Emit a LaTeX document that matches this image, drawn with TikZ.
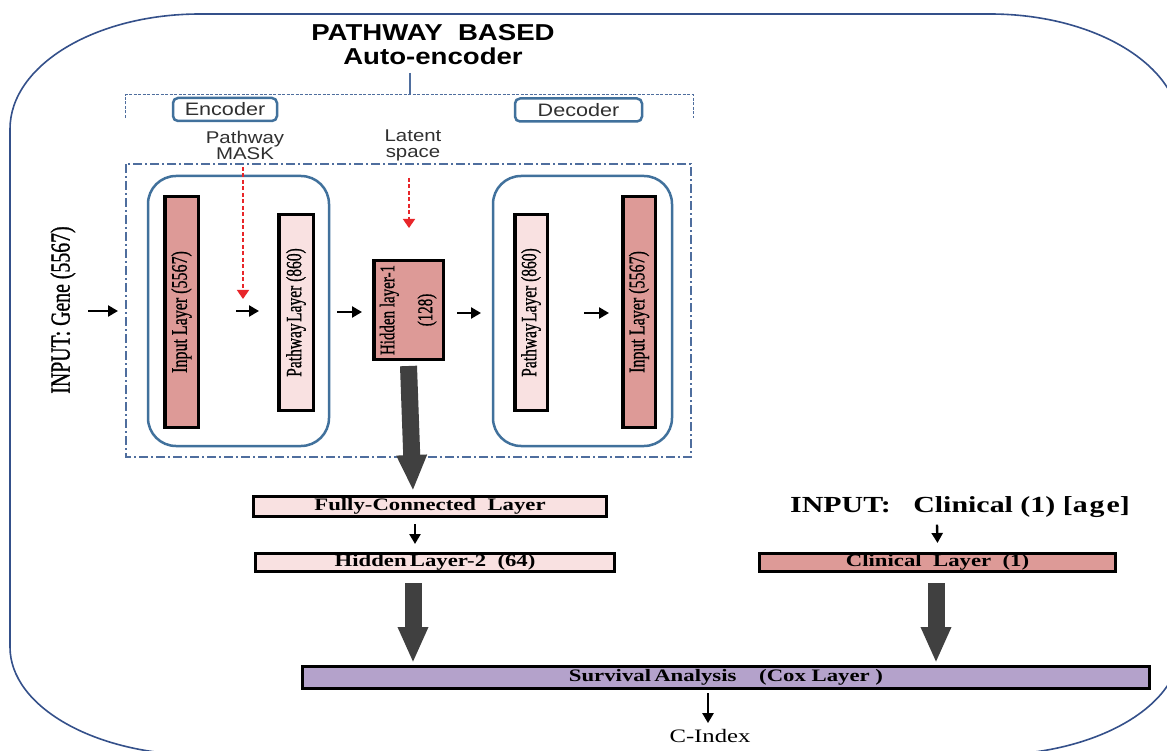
\documentclass[tikz,border=0pt]{standalone}
\usepackage{fontspec}
\setmainfont{Liberation Serif}
\setsansfont{Liberation Sans}
\newfontfamily\rotfont[FakeBold=1]{Liberation Serif}
\usetikzlibrary{arrows.meta,calc}
\definecolor{salmon}{HTML}{DD9A97}
\definecolor{lpink}{HTML}{F9E1E1}
\definecolor{lav}{HTML}{B4A2CB}
\definecolor{outerblue}{HTML}{34508A}
\definecolor{boxblue}{HTML}{41719C}
\definecolor{dashblue}{HTML}{4F6E9E}
\definecolor{biggray}{HTML}{404040}
\definecolor{maskred}{HTML}{E8262A}
\definecolor{txtgray}{HTML}{303030}
\newcommand\fsz[2]{\fontsize{#1}{#2}\selectfont}
\newcommand\hstr[1]{\scalebox{1.3}[1]{#1}}
\newcommand\sstr[1]{\scalebox{1.2}[1]{#1}}
\newcommand\rstr[1]{\scalebox{1}[1.4]{#1}}
\begin{document}
\begin{tikzpicture}[x=1pt,y=-1pt,
  layerd/.style={draw=black, line width=3.5pt, fill=salmon, inner sep=0pt, rotate=90},
  layerl/.style={draw=black, line width=3.5pt, fill=lpink, inner sep=0pt, rotate=90},
  hbar/.style={draw=black, line width=3pt, inner sep=0pt},
  sarrow/.style={line width=2.4pt, -{Triangle[length=10pt,width=11pt]}},
  redarrow/.style={maskred, line width=1.5pt, dash pattern=on 4pt off 2.5pt, -{Triangle[length=9pt,width=12pt]}},
  bigarrow/.style={biggray, line width=17pt, -{Triangle[length=36pt,width=28pt]}},
  tagbox/.style={draw=boxblue, line width=2.5pt, rounded corners=5pt, inner sep=0pt, font=\sffamily\fsz{18}{20}, text=txtgray},
  smalltxt/.style={font=\sffamily\fsz{17}{19}, text=txtgray, align=center, inner sep=0pt},
  groupbox/.style={draw=boxblue, line width=2.5pt, rounded corners=28pt}
]
\path[use as bounding box] (0,0) rectangle (1167,751);
\clip (0,0) rectangle (1167,751);
\fill[white] (0,0) rectangle (1167,751);
% outer boundary
\draw[outerblue, line width=1.6pt] (200,14) -- (990,14)
  arc[start angle=-90, end angle=0, x radius=190, y radius=115] -- (1180,647)
  arc[start angle=0, end angle=90, x radius=190, y radius=108] -- (200,755)
  arc[start angle=90, end angle=180, x radius=190, y radius=108] -- (10,129)
  arc[start angle=180, end angle=270, x radius=190, y radius=115] -- cycle;
% title
\node[font=\sffamily\bfseries\fsz{23}{26}, inner sep=0pt] (t1) at (433,33) {\sstr{PATHWAY\ \ BASED}};
\node[font=\sffamily\bfseries\fsz{23}{26}, inner sep=0pt] (t2) at (433,56) {\sstr{Auto-encoder}};
\coordinate (tl) at (410,73);
\coordinate (tb) at (410,95);
\draw[dashblue, line width=1.2pt] (tl) -- (tb);
% dashed bracket
\draw[dashblue, line width=1pt, dash pattern=on 3pt off 1.5pt] (125,118) -- (125,95) -- (693,95) -- (693,118);
% encoder/decoder tags
\node[tagbox, minimum width=104pt, minimum height=23pt] (enc) at (225,109.5) {\sstr{Encoder}};
\node[tagbox, minimum width=127pt, minimum height=23pt] (dec) at (578.5,110) {\sstr{Decoder}};
\node[smalltxt] (mask) at (245,145) {\sstr{Pathway}\\[-3pt]\sstr{MASK}};
\node[smalltxt] (lat) at (413,145) {\sstr{Latent}\\[-3pt]\sstr{space}};
% dash-dot box
\draw[dashblue, line width=1.3pt, dash pattern=on 9pt off 3pt on 2pt off 3pt] (126,164) rectangle (691,457);
% group boxes
\draw[groupbox] (148,176) rectangle (329,446);
\draw[groupbox] (493,176) rectangle (672,446);
% layers
\node[layerd, minimum width=230.5pt, minimum height=33.5pt, font=\rotfont\fsz{16}{18}] (in1) at (181.5,312) {\rstr{Input Layer (5567)}};
\node[layerl, minimum width=195.5pt, minimum height=34.5pt, font=\rotfont\fsz{15.5}{17}] (pw1) at (296,312.5) {\rstr{Pathway\kern1.5pt Layer (860)}};
\node[layerd, minimum width=98.5pt, minimum height=69.5pt, font=\rotfont\fsz{15}{17}, align=center] (hid1) at (408.5,310) {\rstr{\begin{tabular}{@{}c@{}}Hidden layer-1\\[10pt](128)\end{tabular}}};
\node[layerl, minimum width=195.5pt, minimum height=32.5pt, font=\rotfont\fsz{15.5}{17}] (pw2) at (531,312.5) {\rstr{Pathway\kern1.5pt Layer (860)}};
\node[layerd, minimum width=230.5pt, minimum height=32.5pt, font=\rotfont\fsz{16}{18}] (in2) at (639,312) {\rstr{Input Layer (5567)}};
% gene input
\node[rotate=90, font=\rotfont\fsz{22}{24}, inner sep=0pt] (gene) at (63,310) {\scalebox{0.9}[1.25]{INPUT: Gene (5567)}};
% small arrows
\coordinate (a0s) at (88,311);  \coordinate (a0e) at (118,311);
\coordinate (a1s) at (236,311); \coordinate (a1e) at (259,311);
\coordinate (a2s) at (337,312); \coordinate (a2e) at (362,312);
\coordinate (a3s) at (457,313); \coordinate (a3e) at (481,313);
\coordinate (a4s) at (584,313); \coordinate (a4e) at (609,313);
\draw[sarrow] (a0s) -- (a0e);
\draw[sarrow] (a1s) -- (a1e);
\draw[sarrow] (a2s) -- (a2e);
\draw[sarrow] (a3s) -- (a3e);
\draw[sarrow] (a4s) -- (a4e);
% red dashed arrows
\coordinate (m1s) at (243,167); \coordinate (m1e) at (243,299);
\coordinate (m2s) at (409,178); \coordinate (m2e) at (409,228);
\draw[redarrow] (m1s) -- (m1e);
\draw[redarrow] (m2s) -- (m2e);
% lower layers
\node[hbar, fill=lpink, minimum width=353pt, minimum height=20pt, font=\bfseries\fsz{17.5}{19}] (fc) at (430,506.5) {\hstr{Fully-Connected\ \ Layer}};
\node[hbar, fill=lpink, minimum width=359pt, minimum height=18pt, font=\bfseries\fsz{17.5}{19}] (h2) at (435,562.5) {\hstr{Hidden\kern2.5pt Layer-2\ \ (64)}};
\node[font=\bfseries\fsz{23}{25}, inner sep=0pt] (cin) at (960,507) {\hstr{INPUT:\ \ \ Clinical\ (1)\ [a\kern1.5pt g\kern1.5pt e]}};
\node[hbar, fill=salmon, minimum width=356pt, minimum height=18pt, font=\bfseries\fsz{17.5}{19}] (clin) at (937.5,562.5) {\hstr{Clinical\ \ Layer\ \ (1)}};
\node[hbar, fill=lav, minimum width=847pt, minimum height=22pt, font=\bfseries\fsz{17.5}{19}] (surv) at (726,677.5) {\hstr{Survival\kern2.5pt Analysis\ \ \ \ (Cox Layer\ )}};
\node[font=\fsz{19}{21}, inner sep=0pt] (cidx) at (710,736) {\hstr{C-Index}};
% vertical small arrows
\draw[sarrow] ($(fc.south)+(-15,6)$) -- ($(h2.north)+(-20,-8)$);
\draw[sarrow] ($(cin.south)+(-23,7)$) -- ($(clin.north)+(0,-9)$);
\draw[sarrow] ($(surv.south)+(-18,3)$) -- ($(cidx.north)+(-2,-6)$);
% big arrows
\draw[bigarrow] ($(hid1.west)+(0,5)$) -- ($(fc.north)+(-17,-4)$);
\coordinate (g1) at (413,583);
\draw[bigarrow] (g1) -- ($(g1 |- surv.north)+(0,-2)$);
\draw[bigarrow] ($(clin.south)+(-1.5,10)$) -- ($(clin.south |- surv.north)+(-1.5,-2)$);
\end{tikzpicture}
\end{document}
